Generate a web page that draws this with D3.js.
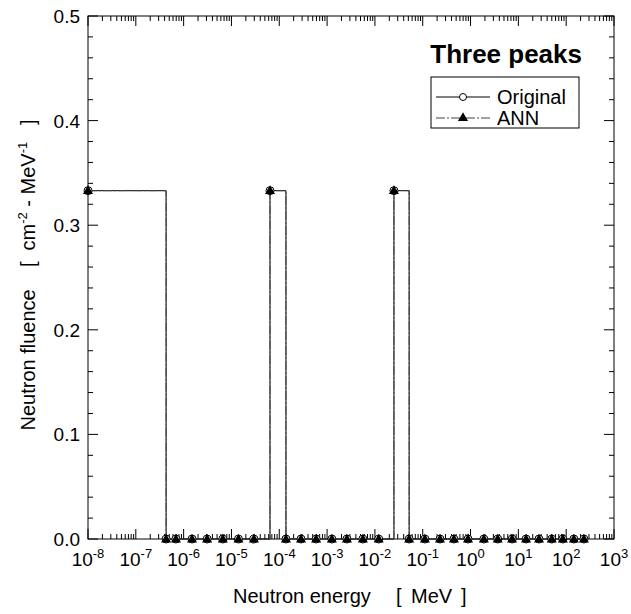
<!DOCTYPE html>
<html><head><meta charset="utf-8">
<script src="https://cdn.jsdelivr.net/npm/d3@7"></script>
<style>body{margin:0;background:#fff}svg{font-family:"Liberation Sans",Arial,sans-serif}</style>
</head><body><svg id="c" width="631" height="614"></svg>
<script>
const energies = [1e-8, 4.3e-7, 6.9e-7, 1.5e-6, 3.1e-6, 6.6e-6, 1.4e-5, 2.95e-5, 6.4e-5, 1.38e-4, 2.85e-4, 5.9e-4, 1.26e-3, 2.6e-3, 5.6e-3, 1.2e-2, 2.5e-2, 5.2e-2, 0.111, 0.23, 0.45, 0.885, 1.9, 3.7, 7.4, 14.5, 27, 50, 85, 145, 235];
const original = [0.333,0,0,0,0,0,0,0,0.333,0,0,0,0,0,0,0,0.333,0,0,0,0,0,0,0,0,0,0,0,0,0,0];
const ann      = [0.333,0,0,0,0,0,0,0,0.333,0,0,0,0,0,0,0,0.333,0,0,0,0,0,0,0,0,0,0,0,0,0,0];
const xTickExps = [-8,-7,-6,-5,-4,-3,-2,-1,0,1,2,3];
const yTicks = [0.0,0.1,0.2,0.3,0.4,0.5];
const seriesNames = ["Original","ANN"];
const chartTitle = "Three peaks";

const svg = d3.select("#c");
const L=88,R=614,T=16,B=539;
const x = d3.scaleLog().domain([1e-8,1e3]).range([L,R]);
const y = d3.scaleLinear().domain([0,0.5]).range([B,T]);

svg.append("rect").attr("x",L).attr("y",T).attr("width",R-L).attr("height",B-T)
  .attr("fill","none").attr("stroke","#000").attr("stroke-width",1);

const g = svg.append("g").attr("stroke","#000").attr("stroke-width",1);
for(let e=-8;e<=3;e++){
  const v=Math.pow(10,e);
  const px=x(v);
  g.append("line").attr("x1",px).attr("x2",px).attr("y1",B).attr("y2",B-10);
  g.append("line").attr("x1",px).attr("x2",px).attr("y1",T).attr("y2",T+10);
  if(e<3) for(let m=2;m<=9;m++){
    const pm=x(m*v);
    g.append("line").attr("x1",pm).attr("x2",pm).attr("y1",B).attr("y2",B-5);
    g.append("line").attr("x1",pm).attr("x2",pm).attr("y1",T).attr("y2",T+5);
  }
}
for(let i=0;i<=25;i++){
  const v=i*0.02, py=y(v), major=(i%5===0);
  const len=major?10:5;
  g.append("line").attr("x1",L).attr("x2",L+len).attr("y1",py).attr("y2",py);
  g.append("line").attr("x1",R).attr("x2",R-len).attr("y1",py).attr("y2",py);
}
svg.append("g").selectAll("text").data(yTicks).join("text")
  .attr("x",L-8).attr("y",d=>y(d)+7).attr("text-anchor","end")
  .attr("font-size",19).text(d=>d.toFixed(1));
const xl = svg.append("g").selectAll("text").data(xTickExps).join("text")
  .attr("x",d=>x(Math.pow(10,d))).attr("y",B+27).attr("text-anchor","middle").attr("font-size",19);
xl.append("tspan").text("10");
xl.append("tspan").attr("font-size",13).attr("dy",-8).text(d=>d);

const xt = svg.append("text").attr("y",603).attr("font-size",20);
xt.append("tspan").attr("x",233).text("Neutron energy");
xt.append("tspan").attr("x",396).text("[");
xt.append("tspan").attr("x",411).text("MeV");
xt.append("tspan").attr("x",461).text("]");

const yt = svg.append("text").attr("transform","translate(35,275) rotate(-90)").attr("text-anchor","middle")
  .attr("font-size",20).style("white-space","pre");
yt.append("tspan").text("Neutron fluence    [  cm");
yt.append("tspan").attr("font-size",13).attr("dy",-8).text("-2");
yt.append("tspan").attr("dy",8).text(" - MeV");
yt.append("tspan").attr("font-size",13).attr("dy",-8).text("-1");
yt.append("tspan").attr("dy",8).text("   ]");

const line = d3.line().x(d=>x(d[0])).y(d=>y(d[1])).curve(d3.curveStepAfter);
const origData = energies.map((e,i)=>[e,original[i]]);
const annData = energies.map((e,i)=>[e,ann[i]]);
svg.append("path").datum(origData).attr("d",line).attr("fill","none").attr("stroke","#000").attr("stroke-width",1);
svg.append("path").datum(annData).attr("d",line).attr("fill","none").attr("stroke","#444").attr("stroke-width",1)
  .attr("stroke-dasharray","9,2,2,2");

const tri = d3.symbol().type(d3.symbolTriangle).size(44);
svg.append("g").selectAll("circle").data(origData).join("circle")
  .attr("cx",d=>x(d[0])).attr("cy",d=>y(d[1])).attr("r",4)
  .attr("fill","#fff").attr("stroke","#000").attr("stroke-width",1);
svg.append("g").selectAll("path").data(annData).join("path")
  .attr("d",tri).attr("transform",d=>`translate(${x(d[0])},${y(d[1])+0.5})`).attr("fill","#000");

svg.append("text").attr("x",582).attr("y",63).attr("text-anchor","end").attr("font-size",26)
  .attr("font-weight","bold").text(chartTitle);

svg.append("rect").attr("x",431).attr("y",77).attr("width",148).attr("height",51)
  .attr("fill","#fff").attr("stroke","#000");
const ly=[97,118];
svg.append("line").attr("x1",436).attr("x2",490).attr("y1",ly[0]).attr("y2",ly[0]).attr("stroke","#000");
svg.append("circle").attr("cx",463).attr("cy",ly[0]).attr("r",3.5).attr("fill","#fff").attr("stroke","#000");
svg.append("line").attr("x1",436).attr("x2",490).attr("y1",ly[1]).attr("y2",ly[1]).attr("stroke","#444").attr("stroke-dasharray","9,2,2,2");
svg.append("path").attr("d",tri).attr("transform",`translate(463,${ly[1]})`).attr("fill","#000");
svg.append("g").selectAll("text").data(seriesNames).join("text")
  .attr("x",497).attr("y",(d,i)=>ly[i]+7).attr("font-size",20).text(d=>d);
</script></body></html>
